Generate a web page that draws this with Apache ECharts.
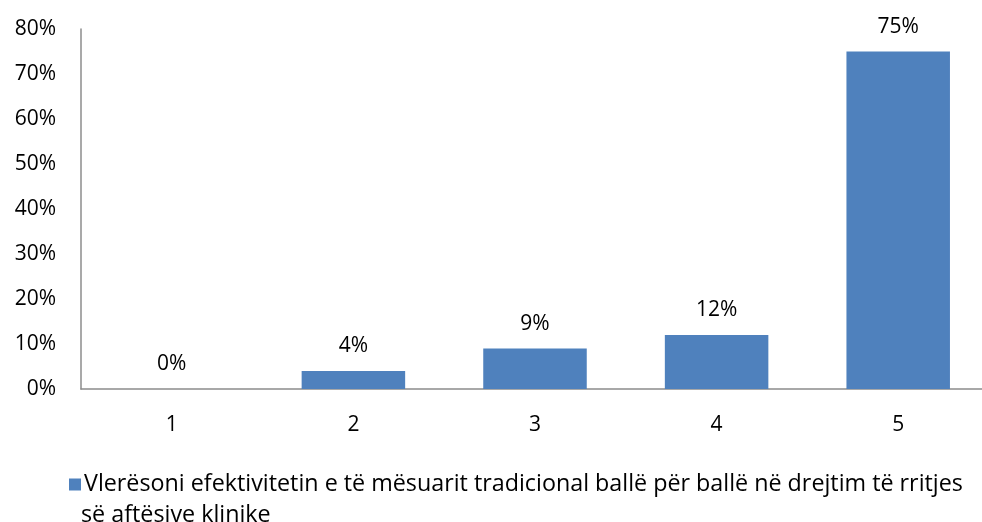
<!DOCTYPE html>
<html><head><meta charset="utf-8">
<script src="https://cdn.jsdelivr.net/npm/echarts@6/dist/echarts.min.js"></script>
<style>html,body{margin:0;padding:0;background:#fff;overflow:hidden}#c{width:992px;height:522px}</style>
</head><body><div id="c"></div>
<script>
const categories = ['1', '2', '3', '4', '5'];
const values = [0, 4, 9, 12, 75];
const seriesName = 'Vlerësoni efektivitetin e të mësuarit tradicional ballë për ballë në drejtim të rritjes';
const seriesNameLine2 = 'së aftësive klinike';
const yTicks = [0, 10, 20, 30, 40, 50, 60, 70, 80];
const FONT = '"Open Sans", sans-serif';
const chart = echarts.init(document.getElementById('c'));
chart.setOption({
  animation: false,
  textStyle: { fontFamily: FONT },
  grid: { left: 81, width: 908, top: 29, height: 360, containLabel: false },
  legend: {
    data: [seriesName], left: 64, top: 468, itemWidth: 12, itemHeight: 12, itemGap: 4,
    icon: 'rect', textStyle: { fontFamily: FONT, fontSize: 23.3, color: '#000', padding: [0,0,0,-2] }
  },
  graphic: [{ type: 'text', x: 81, y: 515, style: { text: seriesNameLine2, font: '23.3px ' + FONT, fill: '#000', verticalAlign: 'middle', textVerticalAlign: 'middle' } }],
  xAxis: {
    type: 'category', data: categories,
    axisLine: { lineStyle: { color: '#8c8c8c', width: 1.5 } },
    axisTick: { show: false },
    axisLabel: { color: '#000', fontSize: 21, margin: 26, fontFamily: FONT }
  },
  yAxis: {
    type: 'value', min: yTicks[0], max: yTicks[yTicks.length - 1], interval: 10,
    axisLine: { show: true, lineStyle: { color: '#8c8c8c', width: 1.5 } },
    axisTick: { show: false },
    splitLine: { show: false },
    axisLabel: { color: '#000', fontSize: 21, margin: 25, formatter: v => v + '%', fontFamily: FONT }
  },
  series: [{
    name: seriesName, type: 'bar', data: values, barWidth: '57%',
    itemStyle: { color: '#4F81BD' },
    label: { show: true, position: 'top', distance: 14, color: '#000', fontSize: 21, formatter: p => p.value + '%', fontFamily: FONT }
  }]
});
</script></body></html>
